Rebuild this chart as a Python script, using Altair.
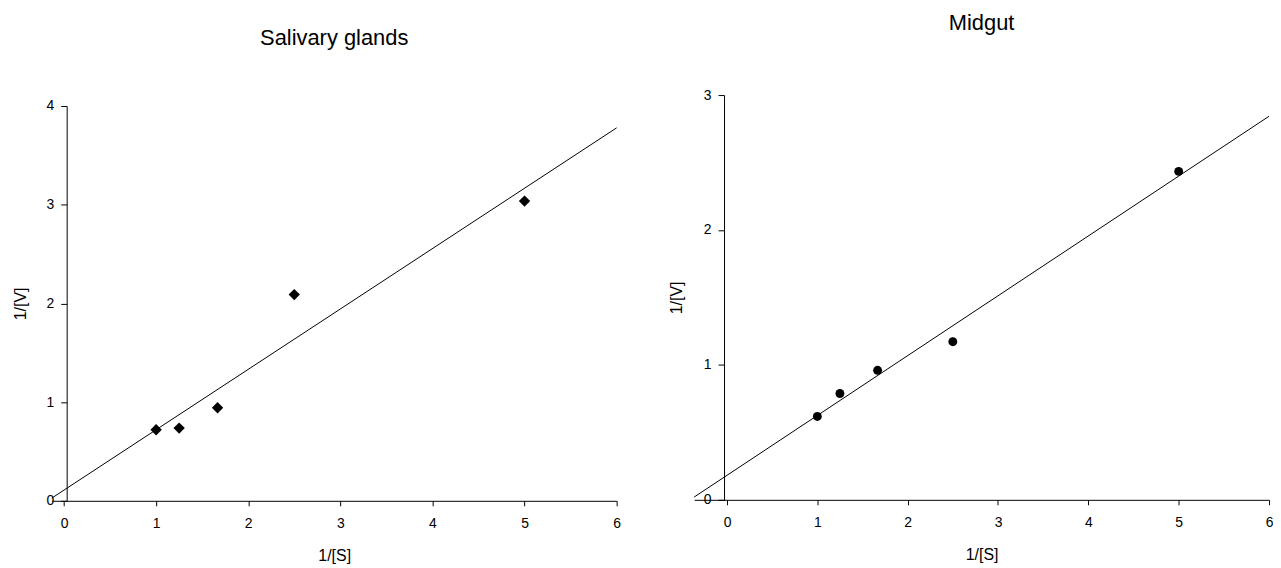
import altair as alt
import pandas as pd

# ---- data ----
s_inv = [1.0, 1.25, 1.667, 2.5, 5.0]          # 1/[S]
sal_v = [0.72, 0.737, 0.943, 2.089, 3.037]     # 1/[V] salivary glands
mid_v = [0.618, 0.788, 0.960, 1.172, 2.434]    # 1/[V] midgut
x_ticks = [0, 1, 2, 3, 4, 5, 6]
sal_y_ticks = [0, 1, 2, 3, 4]
mid_y_ticks = [0, 1, 2, 3]

FONT = "Liberation Sans"


def panel(values, title, xdom, ydom, yticks, width, height, yrange, y_offset,
          y_title_pad, marker, size, title_offset):
    df = pd.DataFrame({"x": s_inv, "y": values})
    xenc = alt.X(
        "x:Q",
        scale=alt.Scale(domain=xdom, nice=False, zero=False),
        axis=alt.Axis(values=x_ticks, format="d", title="1/[S]",
                      labelFlush=False, tickSize=5, labelPadding=11,
                      titlePadding=17),
    )
    yscale = alt.Scale(domain=ydom, nice=False, zero=False)
    if yrange is not None:
        yscale = alt.Scale(domain=ydom, nice=False, zero=False, range=yrange)
    yenc = alt.Y(
        "y:Q",
        scale=yscale,
        axis=alt.Axis(values=yticks, format="d", title="1/[V]",
                      offset=y_offset, labelFlush=False, tickSize=6,
                      labelPadding=7, titlePadding=y_title_pad),
    )
    base = alt.Chart(df)
    line = base.transform_regression(
        "x", "y", extent=[xdom[0], xdom[1]]
    ).mark_line(color="black", strokeWidth=1).encode(x=xenc, y=yenc)
    pts = base.mark_point(
        shape=marker, filled=True, color="black", size=size, opacity=1
    ).encode(x=xenc, y=yenc)
    return alt.layer(line, pts).properties(
        width=width,
        height=height,
        title=alt.TitleParams(
            text=title, fontSize=22, font=FONT, fontWeight="normal",
            color="black", frame="group", anchor="middle",
            offset=title_offset,
        ),
    )


left = panel(sal_v, "Salivary glands", [-0.133, 6.0], [0, 4],
             sal_y_ticks, 568, 408, [408, 11], -15, 18, "diamond", 130, 45)
right = panel(mid_v, "Midgut", [-0.363, 6.0], [0, 3],
              mid_y_ticks, 578, 407, None, -30, 19, "circle", 80, 53)

chart = alt.hconcat(left, right, spacing=48).properties(
    padding={"left": 4, "top": 3, "right": 0, "bottom": 0}
).configure_view(stroke=None).configure_axis(
    grid=False,
    domainColor="black",
    domainWidth=1,
    tickColor="black",
    tickWidth=1,
    labelColor="black",
    labelFont=FONT,
    labelFontSize=14,
    titleFont=FONT,
    titleFontSize=16,
    titleFontWeight="normal",
    titleColor="black",
)

chart.save("out.html", embed_options={"renderer": "svg", "actions": False})
